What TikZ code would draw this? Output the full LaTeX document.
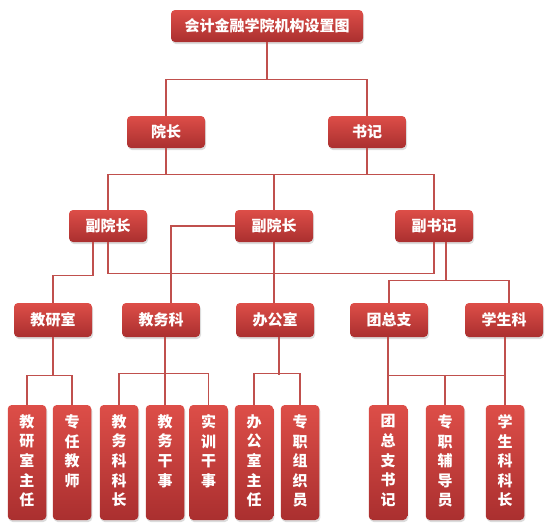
\documentclass[tikz,border=0pt]{standalone}
\usepackage{fontspec}
\newfontfamily\cjk{Noto Sans CJK SC}
\usetikzlibrary{calc,shadows}
\definecolor{boxtop}{RGB}{221,78,72}
\definecolor{boxbot}{RGB}{170,47,47}
\definecolor{wire}{RGB}{192,80,77}
\newcommand{\vlabel}[1]{\parbox[c][96pt][t]{17pt}{\centering #1}}
\begin{document}
\begin{tikzpicture}[x=1pt,y=-1pt,
  unit/.style={rounded corners=4pt,top color=boxtop,bottom color=boxbot,
    drop shadow={shadow xshift=1pt,shadow yshift=-2pt,opacity=0.28},
    text=white,font=\cjk\bfseries\fontsize{15}{19.6}\selectfont,
    minimum width=78,minimum height=32,inner sep=0pt},
  leaf/.style={unit,minimum width=38.5,minimum height=115},
  conn/.style={draw=wire,line width=1.1pt},
]
\useasboundingbox (0,0) rectangle (546,528);
% top levels
\node[unit,minimum width=192] (root) at (267,26) {会计金融学院机构设置图};
\node[unit] (dean) at (166,132) {院长};
\node[unit] (sec) at (367,132) {书记};
\node[unit] (vd1) at (108,226) {副院长};
\node[unit] (vd2) at (274,226) {副院长};
\node[unit] (vs) at (434,226) {副书记};
% offices
\node[unit,minimum height=34] (jys) at (53,320) {教研室};
\node[unit,minimum height=34] (jwk) at (161,320) {教务科};
\node[unit,minimum height=34] (bgs) at (275,320) {办公室};
\node[unit,minimum height=34] (tzz) at (389,320) {团总支};
\node[unit,minimum height=34] (xsk) at (504,320) {学生科};
% posts
\foreach \n/\x/\t in {l1/27/{教\\研\\室\\主\\任},l2/72/{专\\任\\教\\师},
  l3/119/{教\\务\\科\\科\\长},l4/165/{教\\务\\干\\事},l5/208.5/{实\\训\\干\\事},
  l6/254/{办\\公\\室\\主\\任},l7/300/{专\\职\\组\\织\\员},
  l8/388/{团\\总\\支\\书\\记},l9/445/{专\\职\\辅\\导\\员},l10/505/{学\\生\\科\\科\\长}}
  \node[leaf] (\n) at (\x,462.5) {\vlabel{\t}};
% connectors
\draw[conn] (root.south) -- ++(0,37) coordinate (h1);
\draw[conn] (dean.north) |- (h1) -| (sec.north);
\draw[conn] (dean.south) -- ++(0,26) coordinate (h2);
\draw[conn] (sec.south) -- (sec.south |- h2);
\draw[conn] (vd1.north) |- (h2) -| (vs.north);
\draw[conn] (vd2.north) -- (vd2.north |- h2);
\draw[conn] ($(vd1.south)+(-15,0)$) -- ++(0,33) -| (jys.north);
\draw[conn] (vd1.south) -- ++(0,31) -| (vs.south);
\draw[conn] (vd2.west) -| ($(jwk.north)+(10,0)$);
\draw[conn] (vd2.south) -- (vd2.south |- bgs.north);
\draw[conn] ($(vs.south)+(12,0)$) -- ++(0,38) coordinate (h3);
\draw[conn] (tzz.north) |- (h3) -| ($(xsk.north)+(5,0)$);
\draw[conn] (jys.south) -- ++(0,38) coordinate (b1);
\draw[conn] (l1.north) |- (b1) -| (l2.north);
\draw[conn] ($(jwk.south)+(4,0)$) -- (l4.north);
\draw[conn] (l3.north) -- ++(0,-31) -| (l5.north);
\draw[conn] ($(bgs.south)+(4,0)$) -- ++(0,38);
\draw[conn] (l6.north) -- ++(0,-31) -| (l7.north);
\draw[conn] (l8.north |- tzz.south) -- (l8.north);
\draw[conn] ($(xsk.south)+(1,0)$) -- (l10.north);
\draw[conn] (l8.north |- b1) -- (l10.north |- b1);
\draw[conn] (l9.north) -- (l9.north |- b1);
\end{tikzpicture}
\end{document}
